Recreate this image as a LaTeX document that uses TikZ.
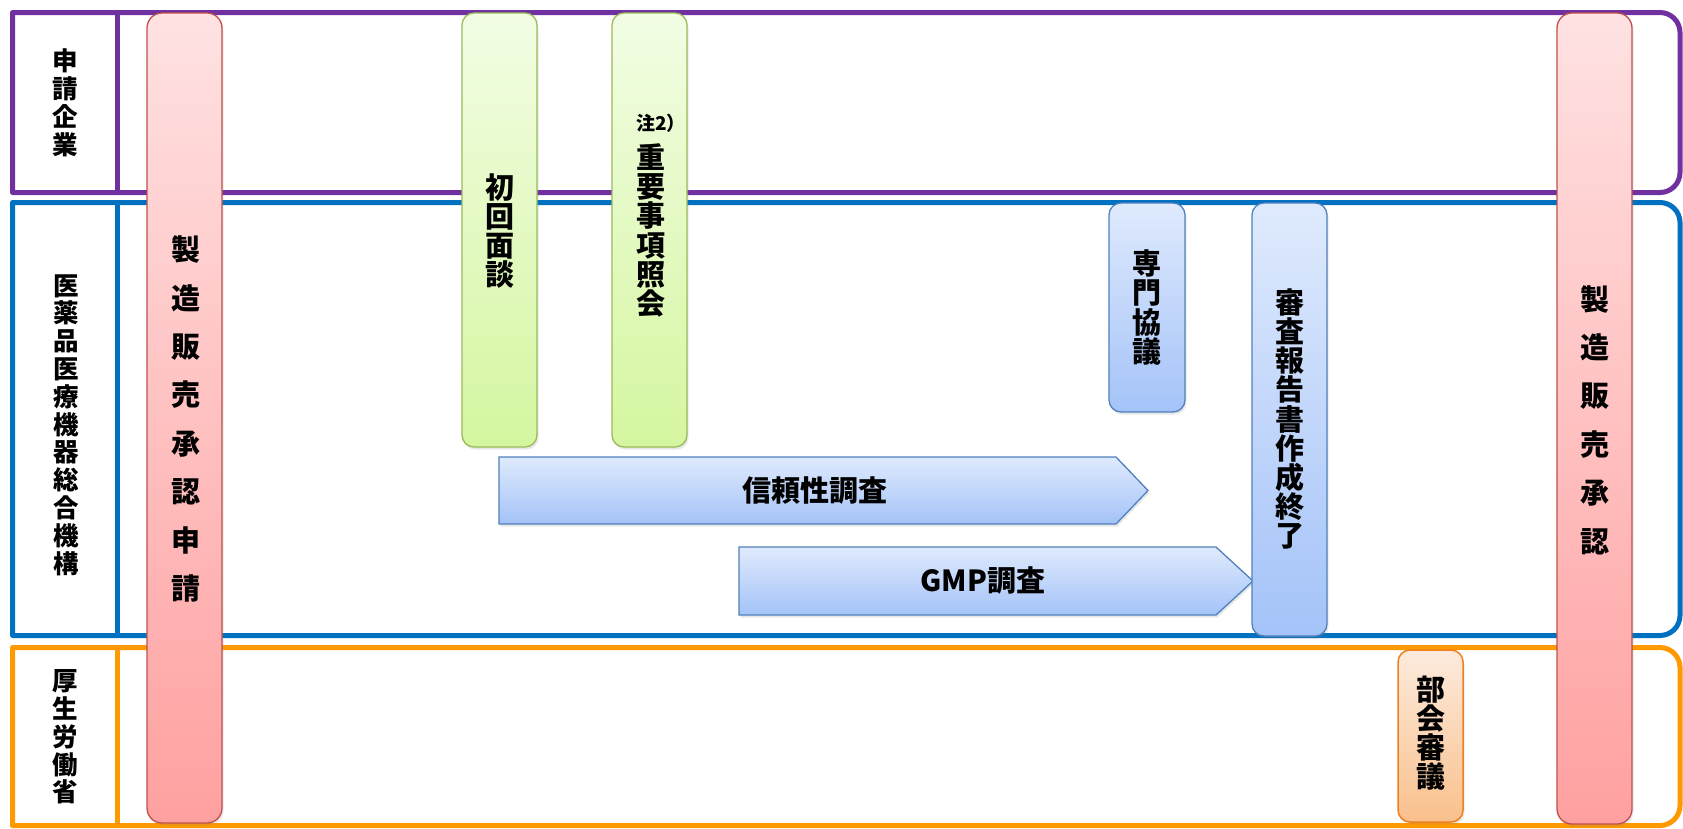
\documentclass[tikz,border=0pt]{standalone}
\usepackage{fontspec}
\newfontfamily\cjk{Noto Sans CJK JP}
\usetikzlibrary{shadows}
\definecolor{lanepurple}{HTML}{7030A0}
\definecolor{laneblue}{HTML}{0070C0}
\definecolor{laneorange}{HTML}{FF9900}
\definecolor{redtop}{HTML}{FFE2E2}
\definecolor{redbot}{HTML}{FFA0A0}
\definecolor{redline}{HTML}{C0504D}
\definecolor{greentop}{HTML}{F2FDE4}
\definecolor{greenbot}{HTML}{D5F6A0}
\definecolor{greenline}{HTML}{9BBB59}
\definecolor{bluetop}{HTML}{DFEAFD}
\definecolor{bluebot}{HTML}{A4C3F8}
\definecolor{blueline}{HTML}{4F81BD}
\definecolor{orangetop}{HTML}{FDEBDD}
\definecolor{orangebot}{HTML}{F9C08C}
\definecolor{orangeline}{HTML}{EE8020}
\begin{document}
\begin{tikzpicture}[x=1pt,y=-1pt,
  lane/.style={line width=5pt, line join=round},
  lanelabel/.style={font=\cjk\bfseries\fontsize{25.5}{27.8}\selectfont, align=center, inner sep=0pt},
  shadowed/.style={drop shadow={shadow xshift=1.5pt, shadow yshift=-2.5pt, opacity=0.18}},
  barbox/.style={draw=redline, line width=1.3pt, rounded corners=15pt, top color=redtop, bottom color=redbot, minimum width=75pt, inner sep=0pt, shadowed},
  greenbox/.style={draw=greenline, line width=1.3pt, rounded corners=12pt, top color=greentop, bottom color=greenbot, minimum width=75pt, inner sep=0pt, shadowed},
  bluebox/.style={draw=blueline, line width=1.3pt, rounded corners=12pt, top color=bluetop, bottom color=bluebot, minimum width=75pt, inner sep=0pt, shadowed},
  orangebox/.style={draw=orangeline, line width=1.5pt, rounded corners=12pt, top color=orangetop, bottom color=orangebot, minimum width=65pt, inner sep=0pt, shadowed},
  bartext/.style={font=\cjk\bfseries\fontsize{29}{48.4}\selectfont, align=center, inner sep=0pt},
  boxtext/.style={font=\cjk\bfseries\fontsize{29}{29.2}\selectfont, align=center, inner sep=0pt},
  arrowshape/.style={draw=blueline, line width=1.3pt, line join=miter, top color=bluetop, bottom color=bluebot, shadowed},
  arrowtext/.style={font=\cjk\bfseries\fontsize{29}{30}\selectfont, inner sep=0pt},
  notetext/.style={font=\cjk\bfseries\fontsize{19}{20}\selectfont, inner sep=0pt}
]
\useasboundingbox (0,0) rectangle (1683,828);
\fill[white] (0,0) rectangle (1683,828);

% lanes
\draw[lane, draw=lanepurple] (12.5,192.5) -- (12.5,12.5) -- (1660,12.5)
  .. controls (1671,12.5) and (1680,21.5) .. (1680,32.5) -- (1680,172.5)
  .. controls (1680,183.5) and (1671,192.5) .. (1660,192.5) -- cycle;
\draw[lane, draw=lanepurple] (117.5,12.5) -- (117.5,192.5);

\draw[lane, draw=laneblue] (12.5,635.5) -- (12.5,202.5) -- (1660,202.5)
  .. controls (1671,202.5) and (1680,211.5) .. (1680,222.5) -- (1680,615.5)
  .. controls (1680,626.5) and (1671,635.5) .. (1660,635.5) -- cycle;
\draw[lane, draw=laneblue] (117.5,202.5) -- (117.5,635.5);

\draw[lane, draw=laneorange] (12.5,825.5) -- (12.5,647.5) -- (1660,647.5)
  .. controls (1671,647.5) and (1680,656.5) .. (1680,667.5) -- (1680,805.5)
  .. controls (1680,816.5) and (1671,825.5) .. (1660,825.5) -- cycle;
\draw[lane, draw=laneorange] (117.5,647.5) -- (117.5,825.5);

% lane labels
\node[lanelabel] (lab1) at (65,103) {申\\請\\企\\業};
\node[lanelabel] (lab2) at (66,425) {医\\薬\\品\\医\\療\\機\\器\\総\\合\\機\\構};
\node[lanelabel] (lab3) at (65,737) {厚\\生\\労\\働\\省};

% tall red bars
\node[barbox, minimum height=810pt] (apply) at (184.5,418) {};
\node[bartext] (applyt) at (186,419) {製\\造\\販\\売\\承\\認\\申\\請};
\node[barbox, minimum height=811pt] (approve) at (1594.5,418.5) {};
\node[bartext] (approvet) at (1594.5,420) {製\\造\\販\\売\\承\\認};

% green boxes
\node[greenbox, minimum height=434pt] (mendan) at (499.5,230) {};
\node[boxtext] (mendant) at (500,231) {初\\回\\面\\談};
\node[greenbox, minimum height=434pt] (shokai) at (649.5,230) {};
\node[notetext] (note) at (661,123) {注2）};
\node[boxtext] (shokait) at (651,230.5) {重\\要\\事\\項\\照\\会};

% blue boxes
\node[bluebox, minimum width=76pt, minimum height=209pt] (senmon) at (1147,307.5) {};
\node[boxtext] (senmont) at (1147,307.5) {専\\門\\協\\議};

% arrows
\path[arrowshape] (499,457) -- (1116,457) -- (1148,490.5) -- (1116,524) -- (499,524) -- cycle;
\node[arrowtext] (shinrai) at (815,490.5) {信頼性調査};
\path[arrowshape] (739,547) -- (1216,547) -- (1253,581) -- (1216,615) -- (739,615) -- cycle;
\node[arrowtext] (gmp) at (983,581) {GMP調査};

\node[bluebox, minimum height=433pt] (report) at (1289.5,419.5) {};
\node[boxtext] (reportt) at (1290,419) {審\\査\\報\\告\\書\\作\\成\\終\\了};

% orange box
\node[orangebox, minimum height=172pt] (bukai) at (1430.5,736) {};
\node[boxtext] (bukait) at (1431,733) {部\\会\\審\\議};
\end{tikzpicture}
\end{document}
